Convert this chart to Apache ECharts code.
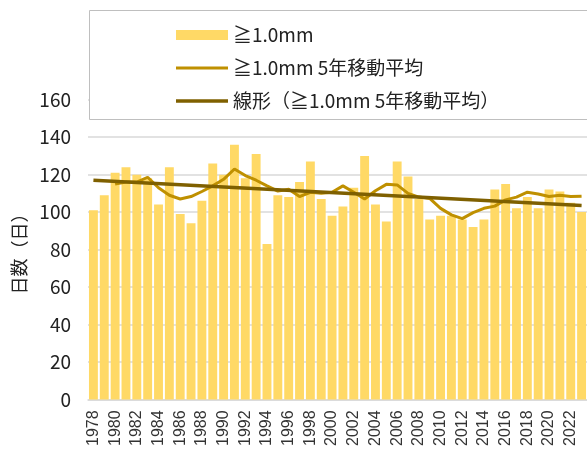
<!DOCTYPE html>
<html>
<head>
<meta charset="utf-8">
<script src="https://cdn.jsdelivr.net/npm/echarts@6/dist/echarts.min.js"></script>
<style>
  html, body { margin: 0; padding: 0; background: #fff; }
  #main { width: 587px; height: 449px; }
</style>
</head>
<body>
<div id="main"></div>
<script>
// 年
var years = [
  "1978", "1979", "1980", "1981", "1982", "1983", "1984", "1985", "1986", "1987",
  "1988", "1989", "1990", "1991", "1992", "1993", "1994", "1995", "1996", "1997",
  "1998", "1999", "2000", "2001", "2002", "2003", "2004", "2005", "2006", "2007",
  "2008", "2009", "2010", "2011", "2012", "2013", "2014", "2015", "2016", "2017",
  "2018", "2019", "2020", "2021", "2022", "2023"
];

// 日降水量 1.0mm 以上の日数
var days = [
  101, 109, 121, 124, 120, 118, 104, 124, 99, 94,
  106, 126, 120, 136, 118, 131, 83, 109, 108, 116,
  127, 107, 98, 103, 113, 130, 104, 95, 127, 119,
  107, 96, 98, 98, 96, 92, 96, 112, 115, 102,
  108, 102, 112, 111, 105, 100
];

// 5年移動平均
var movingAvg = [
  null, null, 115, 116, 116, 118.6, 113, 109, 107, 108.3,
  111, 114, 117.5, 123, 119.5, 117, 114, 111.2, 112.2, 108.3,
  110.6, 110, 110.6, 114, 110.6, 107, 111.4, 114.8, 114.5, 110,
  108, 107.3, 102, 98.5, 96.5, 99.7, 102, 103.2, 106.5, 108,
  110.6, 109.7, 108.3, 109, 108.3, 108.5
];

// 線形トレンド（両端の値）
var trend = [117, null, null, null, null, null, null, null, null, null,
  null, null, null, null, null, null, null, null, null, null,
  null, null, null, null, null, null, null, null, null, null,
  null, null, null, null, null, null, null, null, null, null,
  null, null, null, null, null, 103.5];

var names = ["≧1.0mm", "≧1.0mm 5年移動平均", "線形（≧1.0mm 5年移動平均）"];

var myChart = echarts.init(document.getElementById("main"));

var jp = "'Noto Sans CJK JP', sans-serif";

var option = {
  animation: false,
  backgroundColor: "#fff",
  grid: {
    left: 88,
    right: -8,
    top: 99.7,
    bottom: 48,
  },
  graphic: [
    {
      type: "rect",
      z: 100,
      shape: { x: 89.5, y: 10.5, width: 520, height: 109 },
      style: { fill: "#fff", stroke: "#bfbfbf", lineWidth: 1 },
    },
  ],
  legend: {
    z: 110,
    orient: "vertical",
    left: 176,
    top: 25,
    padding: 0,
    itemWidth: 52,
    itemHeight: 10,
    itemGap: 13,
    textStyle: {
      fontFamily: jp,
      fontSize: 19,
      color: "#222",
      lineHeight: 20,
    },
    data: [
      { name: names[0], icon: "rect" },
      { name: names[1], icon: "path://M0,0H52V3H0Z" },
      { name: names[2], icon: "path://M0,0H52V3.5H0Z" },
    ],
  },
  xAxis: {
    type: "category",
    data: years,
    boundaryGap: true,
    axisLine: { lineStyle: { color: "#d9d9d9", width: 1.5 } },
    axisTick: { show: false },
    axisLabel: {
      interval: 1,
      rotate: 90,
      margin: 11,
      fontFamily: "'Liberation Sans', Arial, sans-serif",
      fontSize: 16,
      color: "#333",
    },
  },
  yAxis: {
    type: "value",
    min: 0,
    max: 160,
    interval: 20,
    name: "日数（日）",
    nameLocation: "middle",
    nameRotate: 90,
    nameGap: 47,
    nameTextStyle: { fontFamily: jp, fontSize: 18, color: "#222" },
    axisLine: { show: false },
    axisTick: { show: false },
    axisLabel: { margin: 17, fontFamily: jp, fontSize: 19, color: "#222" },
    splitLine: { lineStyle: { color: "#d9d9d9", width: 1.5 } },
  },
  series: [
    {
      name: names[0],
      type: "bar",
      data: days,
      barCategoryGap: "18%",
      itemStyle: { color: "#FFD966" },
    },
    {
      name: names[1],
      type: "line",
      data: movingAvg,
      symbol: "none",
      lineStyle: { color: "#BF9000", width: 3 },
      itemStyle: { color: "#BF9000" },
    },
    {
      name: names[2],
      type: "line",
      data: trend,
      connectNulls: true,
      symbol: "none",
      lineStyle: { color: "#7F6000", width: 3.5 },
      itemStyle: { color: "#7F6000" },
    },
  ],
};

if (option && typeof option === "object") {
  myChart.setOption(option);
}
</script>
</body>
</html>
